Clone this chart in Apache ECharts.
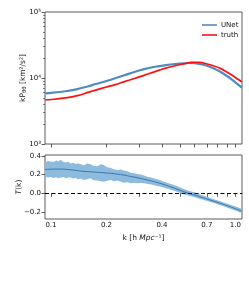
<!DOCTYPE html>
<html><head><meta charset="utf-8">
<script src="https://cdn.jsdelivr.net/npm/echarts@6/dist/echarts.min.js"></script>
<style>html,body{margin:0;padding:0;background:#fff}#c{width:249px;height:299px}</style>
</head><body><div id="c"></div>
<script>
const kTop   = [0.093, 0.1, 0.12, 0.139, 0.16, 0.173, 0.2, 0.223, 0.25, 0.286, 0.32, 0.367, 0.42, 0.472, 0.53, 0.582, 0.64, 0.702, 0.76, 0.829, 0.88, 0.939, 1.0, 1.085];
const unet   = [5860, 5950, 6300, 6800, 7500, 8030, 9000, 9900, 11000, 12450, 13600, 14800, 15700, 16300, 16700, 16900, 16300, 15300, 14000, 12400, 11200, 9890, 8600, 7130];
const truth  = [4640, 4720, 5000, 5400, 6100, 6500, 7300, 7950, 8800, 9900, 10950, 12500, 14100, 15350, 16500, 17200, 17200, 16300, 15300, 14000, 12800, 11500, 10200, 8790];

const kRatio   = [0.093, 0.1, 0.113, 0.128, 0.139, 0.151, 0.164, 0.1785, 0.194, 0.211, 0.229, 0.249, 0.271, 0.294, 0.32, 0.345, 0.391, 0.443, 0.502, 0.54, 0.569, 0.645, 0.731, 0.829, 0.939, 1.087];
const ratioMid = [0.255, 0.258, 0.26, 0.252, 0.243, 0.235, 0.23, 0.225, 0.22, 0.214, 0.205, 0.195, 0.18, 0.167, 0.15, 0.135, 0.107, 0.071, 0.032, 0.008, -0.005, -0.038, -0.072, -0.107, -0.145, -0.19];

const kBand     = [0.093, 0.096, 0.0996, 0.103, 0.107, 0.11, 0.113, 0.117, 0.12, 0.124, 0.128, 0.132, 0.136, 0.14, 0.145, 0.151, 0.157, 0.164, 0.17, 0.1785, 0.186, 0.194, 0.202, 0.211, 0.22, 0.229, 0.239, 0.249, 0.26, 0.271, 0.282, 0.294, 0.307, 0.32, 0.335, 0.345, 0.36, 0.375, 0.391, 0.41, 0.443, 0.47, 0.502, 0.535, 0.569, 0.6, 0.645, 0.69, 0.731, 0.78, 0.829, 0.88, 0.939, 1.0, 1.087];
const bandUpper = [0.33, 0.345, 0.34, 0.335, 0.35, 0.34, 0.358, 0.335, 0.33, 0.338, 0.32, 0.328, 0.315, 0.322, 0.31, 0.30, 0.318, 0.31, 0.295, 0.29, 0.31, 0.30, 0.28, 0.27, 0.258, 0.25, 0.255, 0.245, 0.235, 0.22, 0.215, 0.207, 0.2, 0.19, 0.175, 0.172, 0.16, 0.15, 0.14, 0.125, 0.103, 0.085, 0.062, 0.04, 0.022, 0.01, -0.013, -0.032, -0.05, -0.07, -0.085, -0.104, -0.122, -0.14, -0.165];
const bandLower = [0.18, 0.17, 0.175, 0.165, 0.172, 0.16, 0.168, 0.175, 0.162, 0.17, 0.168, 0.158, 0.165, 0.15, 0.158, 0.143, 0.15, 0.16, 0.14, 0.136, 0.13, 0.125, 0.135, 0.143, 0.13, 0.136, 0.125, 0.114, 0.118, 0.107, 0.112, 0.107, 0.11, 0.108, 0.1, 0.098, 0.09, 0.078, 0.074, 0.06, 0.04, 0.025, 0.004, -0.015, -0.03, -0.042, -0.06, -0.076, -0.094, -0.11, -0.128, -0.145, -0.165, -0.185, -0.213];

const xTickValues  = [0.1, 0.2, 0.3, 0.4, 0.5, 0.6, 0.7, 0.8, 0.9, 1.0];
const xLabelValues = [0.1, 0.2, 0.4, 0.7, 1.0];
const yTopMajor = [1000, 10000, 100000];
const yTopMinor = [2000, 3000, 4000, 5000, 6000, 7000, 8000, 9000, 20000, 30000, 40000, 50000, 60000, 70000, 80000, 90000];
const yBotTicks = [-0.2, 0, 0.2, 0.4];
const supMap = {1000: '10³', 10000: '10⁴', 100000: '10⁵'};

const zip = (a, b) => a.map((v, i) => [v, b[i]]);
const FONT = 'DejaVu Sans';
const TXT = '#111';
const AX = '#333';

const chart = echarts.init(document.getElementById('c'), null, {renderer: 'canvas'});
chart.setOption({
  animation: false,
  backgroundColor: '#fff',
  textStyle: {fontFamily: FONT},
  grid: [
    {left: 45, top: 12, width: 197, height: 132, show: true, borderColor: AX, borderWidth: 0.8, backgroundColor: 'transparent'},
    {left: 45, top: 155, width: 197, height: 64, show: true, borderColor: AX, borderWidth: 0.8, backgroundColor: 'transparent'}
  ],
  legend: {
    data: ['UNet', 'truth'], orient: 'vertical', left: 197, top: 16,
    icon: 'rect', itemWidth: 15, itemHeight: 1.6, itemGap: 2,
    textStyle: {fontFamily: FONT, fontSize: 7, color: TXT, lineHeight: 8, padding: [0, 0, 0, -1]}
  },
  xAxis: [
    {type: 'log', gridIndex: 0, min: 0.0928, max: 1.087, logBase: 10,
     axisLine: {show: false}, splitLine: {show: false},
     axisTick: {show: true, length: 3.5, customValues: xTickValues, lineStyle: {color: AX, width: 0.8}},
     axisLabel: {show: false}},
    {type: 'log', gridIndex: 1, min: 0.0928, max: 1.087, logBase: 10,
     axisLine: {show: false}, splitLine: {show: false},
     axisTick: {show: true, length: 3.5, customValues: xTickValues, lineStyle: {color: AX, width: 0.8}},
     axisLabel: {show: true, customValues: xLabelValues, fontSize: 7, color: TXT, margin: 3,
       formatter: v => Number(v).toFixed(1)},
     name: '{a|k [h }{i|Mpc}{a|⁻¹]}', nameLocation: 'middle', nameGap: 15,
     nameTextStyle: {rich: {a: {fontSize: 7.5, color: TXT, fontFamily: FONT}, i: {fontSize: 7.5, color: TXT, fontStyle: 'italic', fontFamily: FONT}}}}
  ],
  yAxis: [
    {type: 'log', gridIndex: 0, min: 1000, max: 100000, logBase: 10,
     axisLine: {show: false}, splitLine: {show: false},
     axisTick: {show: true, length: 3.5, customValues: yTopMajor, lineStyle: {color: AX, width: 0.8}},
     axisLabel: {show: true, customValues: yTopMajor, fontSize: 7, color: TXT, margin: 4,
       formatter: v => supMap[Math.round(v)] || ''},
     name: '{a|kP}{s|θθ}{a| [km²/s²]}', nameLocation: 'middle', nameGap: 17, nameRotate: 90, nameMoveOverlap: false,
     nameTextStyle: {rich: {a: {fontSize: 7.5, color: TXT, fontFamily: FONT, lineHeight: 10, verticalAlign: 'middle'}, s: {fontSize: 5.5, color: TXT, fontFamily: FONT, lineHeight: 10, verticalAlign: 'bottom'}}}},
    {type: 'log', gridIndex: 0, min: 1000, max: 100000, logBase: 10, position: 'left',
     axisLine: {show: false}, splitLine: {show: false},
     axisTick: {show: true, length: 2, customValues: yTopMinor, lineStyle: {color: AX, width: 0.6}},
     axisLabel: {show: false}},
    {type: 'value', gridIndex: 1, min: -0.275, max: 0.41,
     axisLine: {show: false}, splitLine: {show: false},
     axisTick: {show: true, length: 3.5, customValues: yBotTicks, lineStyle: {color: AX, width: 0.8}},
     axisLabel: {show: true, customValues: yBotTicks, fontSize: 7, color: TXT, margin: 4,
       formatter: v => (v < -1e-9 ? '\u2212' : '') + Math.abs(v).toFixed(1)},
     name: '{i|T}{a|(k)}', nameLocation: 'middle', nameGap: 22, nameRotate: 90, nameMoveOverlap: false,
     nameTextStyle: {rich: {a: {fontSize: 7.5, color: TXT, fontFamily: FONT}, i: {fontSize: 7.5, color: TXT, fontStyle: 'italic', fontFamily: FONT}}}}
  ],
  series: [
    {name: 'UNet', type: 'line', xAxisIndex: 0, yAxisIndex: 0, data: zip(kTop, unet), smooth: 0.3,
     showSymbol: false, symbol: 'none', lineStyle: {color: '#4f8bc1', width: 2.2}, itemStyle: {color: '#4f8bc1'}, z: 3},
    {name: 'truth', type: 'line', xAxisIndex: 0, yAxisIndex: 0, data: zip(kTop, truth), smooth: 0.3,
     showSymbol: false, symbol: 'none', lineStyle: {color: '#ff1010', width: 1.7}, itemStyle: {color: '#ff1010'}, z: 4},
    {name: 'band', type: 'custom', xAxisIndex: 1, yAxisIndex: 2, data: zip(kBand, bandUpper), clip: true, z: 2,
     encode: {x: 0, y: 1},
     renderItem: (params, api) => {
       if (params.dataIndex !== 0) return null;
       const pts = [];
       for (let i = 0; i < kBand.length; i++) pts.push(api.coord([kBand[i], bandUpper[i]]));
       for (let i = kBand.length - 1; i >= 0; i--) pts.push(api.coord([kBand[i], bandLower[i]]));
       return {type: 'polygon', shape: {points: pts}, style: {fill: '#8dbbde', stroke: null}};
     }},
    {name: 'ratio', type: 'line', xAxisIndex: 1, yAxisIndex: 2, data: zip(kRatio, ratioMid), smooth: 0.3,
     symbol: 'none', lineStyle: {color: '#3a76ad', width: 1}, z: 3,
     markLine: {silent: true, symbol: 'none', label: {show: false},
       lineStyle: {color: '#000', type: [4, 2.5], width: 1.1},
       data: [{yAxis: 0}]}}
  ]
});
</script></body></html>
